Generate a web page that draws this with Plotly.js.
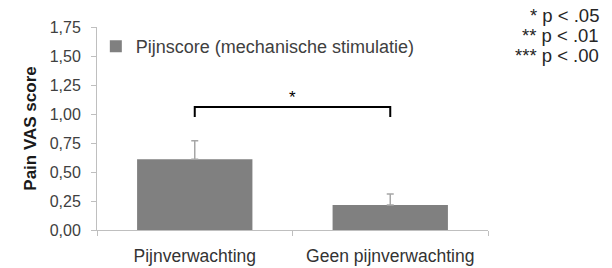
<!DOCTYPE html>
<html>
<head>
<meta charset="utf-8">
<script src="https://cdn.plot.ly/plotly-3.0.1.min.js"></script>
<style>html,body{margin:0;padding:0;background:#fff;}#chart{width:612px;height:268px;}</style>
</head>
<body>
<div id="chart"></div>
<script>
// Data
const categories = ['Pijnverwachting', 'Geen pijnverwachting'];
const painScores = [0.61, 0.215];
const errorsPlus = [0.16, 0.095];
const errorsMinus = [0, 0];
const seriesName = 'Pijnscore (mechanische stimulatie)';
const yTicks = [0, 0.25, 0.5, 0.75, 1.0, 1.25, 1.5, 1.75];
const bracketLow = 0.975;
const bracketHigh = 1.06;
const starLevel = 1.14;
const sigLabel = '*';
const pLegend = ['* p &lt; .05', '** p &lt; .01', '*** p &lt; .00'];

const font = 'Liberation Sans, Arial, sans-serif';

const bars = {
  type: 'bar',
  x: categories,
  y: painScores,
  name: seriesName,
  marker: {color: '#808080'},
  error_y: {type: 'data', symmetric: false, array: errorsPlus, arrayminus: errorsMinus,
            color: '#a6a6a6', thickness: 1.5, width: 3.5},
  hoverinfo: 'skip'
};

const bracket = {
  type: 'scatter',
  mode: 'lines',
  x: [categories[0], categories[0], categories[1], categories[1]],
  y: [bracketLow, bracketHigh, bracketHigh, bracketLow],
  line: {color: '#000000', width: 2},
  showlegend: false,
  hoverinfo: 'skip'
};

const annotations = [{
  x: 0.5, xref: 'x', y: starLevel, yref: 'y', text: sigLabel, showarrow: false,
  font: {family: font, size: 17, color: '#000'}
}];
const pY = [1.055, 0.957, 0.858];
pLegend.forEach((t, i) => annotations.push({
  x: 1.29, xref: 'paper', xanchor: 'right', y: pY[i], yref: 'paper', yanchor: 'middle',
  text: t, showarrow: false, font: {family: font, size: 18.5, color: '#262626'}
}));

const layout = {
  width: 612, height: 268,
  margin: {l: 97, r: 124, t: 27, b: 38, pad: 0},
  paper_bgcolor: '#fff', plot_bgcolor: '#fff',
  separators: ',.',
  bargap: 0.41,
  font: {family: font, color: '#404040'},
  showlegend: true,
  legend: {x: -0.003, xanchor: 'left', y: 0.995, yanchor: 'top',
           bgcolor: 'rgba(0,0,0,0)', font: {family: font, size: 18, color: '#404040'}},
  xaxis: {
    type: 'category', showline: true, linecolor: '#bfbfbf', linewidth: 1,
    ticks: 'outside', tickson: 'boundaries', ticklen: 5, tickcolor: '#bfbfbf',
    showgrid: false, zeroline: false, ticklabelstandoff: 10,
    tickfont: {family: font, size: 17.5, color: '#333'},
    fixedrange: true
  },
  yaxis: {
    range: [0, 1.75], tickvals: yTicks, tickformat: '.2f',
    showline: true, linecolor: '#bfbfbf', linewidth: 1,
    ticks: 'outside', ticklen: 5, tickcolor: '#bfbfbf',
    showgrid: false, zeroline: false, ticklabelstandoff: 7,
    tickfont: {family: font, size: 16, color: '#404040'},
    title: {text: '<b>Pain VAS score</b>', font: {family: font, size: 17, color: '#1a1a1a'}, standoff: 8},
    fixedrange: true
  },
  annotations: annotations
};

Plotly.newPlot('chart', [bars, bracket], layout, {displayModeBar: false, staticPlot: true});
</script>
</body>
</html>
